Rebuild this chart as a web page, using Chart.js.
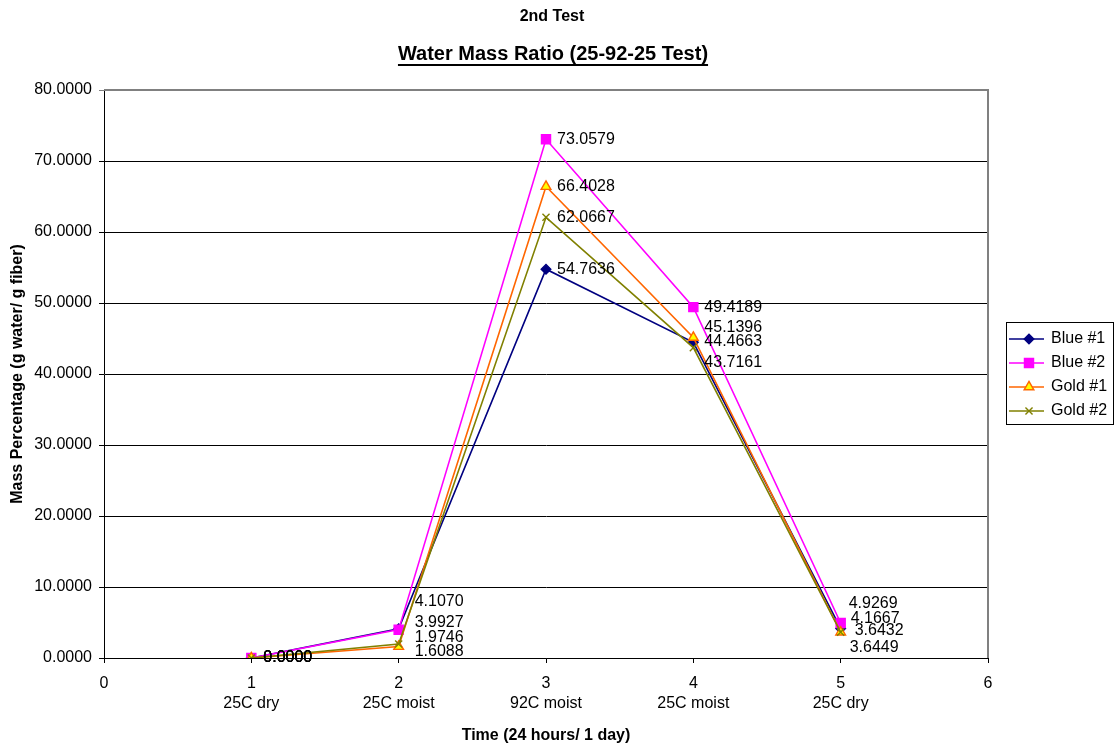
<!DOCTYPE html>
<html>
<head>
<meta charset="utf-8">
<title>Water Mass Ratio (25-92-25 Test)</title>
<script src="https://cdn.jsdelivr.net/npm/chart.js@4/dist/chart.umd.min.js"></script>
<style>
  html, body { margin: 0; padding: 0; background: #fff; }
  #wrap { position: relative; width: 1116px; height: 747px; }
</style>
</head>
<body>
<div id="wrap"><canvas id="chart" width="1116" height="747"></canvas></div>
<script>
// Time points (days) and the condition at each one
const timePoints = [1, 2, 3, 4, 5];
const conditions = ['25C dry', '25C moist', '92C moist', '25C moist', '25C dry'];

// Mass percentage (g water / g fiber) per sample
const blue1 = [0.0000, 4.1070, 54.7636, 44.4663, 4.1667];
const blue2 = [0.0000, 3.9927, 73.0579, 49.4189, 4.9269];
const gold1 = [0.0000, 1.6088, 66.4028, 45.1396, 3.6432];
const gold2 = [0.0000, 1.9746, 62.0667, 43.7161, 3.6449];

const seriesNames = ['Blue #1', 'Blue #2', 'Gold #1', 'Gold #2'];

// Axis ranges
const xMin = 0, xMax = 6, xStep = 1;
const yMin = 0, yMax = 80, yStep = 10;

const FONT = '"Liberation Sans", Arial, sans-serif';

// Label nudges (px) so the value labels don't sit on top of each other
const labelNudge = [
  [[12, 0], [16, -27], [11, 0], [11, -1], [10, -10]],
  [[12, 0], [16, -7],  [11, 0], [11, 0],  [8, -19]],
  [[12, 0], [16, 5],   [11, 0], [11, -10], [14, -2]],
  [[12, 0], [16, -6],  [11, 0], [11, 15], [9, 15]]
];

function pts(values) {
  return values.map((v, i) => ({ x: timePoints[i], y: v }));
}

const styles = [
  { color: '#000080', fill: '#000080', shape: 'rectRot', radius: 4.8 },
  { color: '#FF00FF', fill: '#FF00FF', shape: 'rect', radius: 6.4 },
  { color: '#FF6600', fill: '#FFFF00', shape: 'triangle', radius: 5.6 },
  { color: '#808000', fill: '#808000', shape: 'crossRot', radius: 5 }
];
const seriesValues = [blue1, blue2, gold1, gold2];

// later series are painted over earlier ones
const datasets = seriesValues.map((vals, k) => ({
  label: seriesNames[k],
  data: pts(vals),
  order: seriesValues.length - k,
  borderColor: styles[k].color,
  backgroundColor: styles[k].fill,
  borderWidth: 1.6,
  pointStyle: styles[k].shape,
  pointRadius: styles[k].radius,
  pointHoverRadius: styles[k].radius,
  pointBorderColor: styles[k].color,
  pointBackgroundColor: styles[k].fill,
  pointBorderWidth: 1.4,
  tension: 0,
  fill: false
}));

// Small marker painter for the legend
function drawMarker(ctx, shape, x, y, r, stroke, fill) {
  ctx.save();
  ctx.strokeStyle = stroke;
  ctx.fillStyle = fill;
  ctx.lineWidth = 1.4;
  ctx.beginPath();
  if (shape === 'rectRot') {
    ctx.moveTo(x, y - r); ctx.lineTo(x + r, y); ctx.lineTo(x, y + r); ctx.lineTo(x - r, y); ctx.closePath();
    ctx.fill(); ctx.stroke();
  } else if (shape === 'rect') {
    const s = r * Math.SQRT1_2;
    ctx.rect(x - s, y - s, 2 * s, 2 * s);
    ctx.fill(); ctx.stroke();
  } else if (shape === 'triangle') {
    ctx.moveTo(x, y - r);
    ctx.lineTo(x + r * 0.866, y + r * 0.5);
    ctx.lineTo(x - r * 0.866, y + r * 0.5);
    ctx.closePath();
    ctx.fill(); ctx.stroke();
  } else if (shape === 'crossRot') {
    const s = r * Math.SQRT1_2;
    ctx.moveTo(x - s, y - s); ctx.lineTo(x + s, y + s);
    ctx.moveTo(x + s, y - s); ctx.lineTo(x - s, y + s);
    ctx.stroke();
  }
  ctx.restore();
}

const decorations = {
  id: 'decorations',
  afterDatasetsDraw(chart) {
    const ctx = chart.ctx;
    // value labels
    ctx.save();
    ctx.font = '16px ' + FONT;
    ctx.fillStyle = '#000';
    ctx.textAlign = 'left';
    ctx.textBaseline = 'middle';
    chart.data.datasets.forEach((ds, k) => {
      const meta = chart.getDatasetMeta(k);
      meta.data.forEach((el, i) => {
        const [dx, dy] = labelNudge[k][i];
        ctx.fillText(ds.data[i].y.toFixed(4), el.x + dx, el.y + dy);
      });
    });
    ctx.restore();
  },
  afterDraw(chart) {
    const ctx = chart.ctx;
    const area = chart.chartArea;
    ctx.save();

    // plot frame: top and right edges
    ctx.strokeStyle = '#808080';
    ctx.lineWidth = 2;
    ctx.beginPath();
    ctx.moveTo(area.left, area.top);
    ctx.lineTo(area.right, area.top);
    ctx.lineTo(area.right, area.bottom);
    ctx.stroke();

    ctx.fillStyle = '#000';
    ctx.textAlign = 'center';
    ctx.textBaseline = 'middle';

    // titles
    ctx.font = 'bold 16px ' + FONT;
    ctx.fillText('2nd Test', 552, 17);
    ctx.font = 'bold 20px ' + FONT;
    const mainTitle = 'Water Mass Ratio (25-92-25 Test)';
    ctx.fillText(mainTitle, 553, 54);
    const w = ctx.measureText(mainTitle).width;
    ctx.fillRect(553 - w / 2, 64, w, 2);

    // axis titles
    ctx.font = 'bold 16px ' + FONT;
    ctx.fillText('Time (24 hours/ 1 day)', 546, 736);
    ctx.save();
    ctx.translate(18, 374);
    ctx.rotate(-Math.PI / 2);
    ctx.fillText('Mass Percentage (g water/ g fiber)', 0, 0);
    ctx.restore();

    // legend
    const lx = 1006, ly = 322, lw = 107, lh = 102;
    ctx.fillStyle = '#fff';
    ctx.fillRect(lx, ly, lw, lh);
    ctx.strokeStyle = '#000';
    ctx.lineWidth = 1;
    ctx.strokeRect(lx + 0.5, ly + 0.5, lw, lh);
    ctx.font = '16px ' + FONT;
    ctx.textAlign = 'left';
    seriesNames.forEach((name, k) => {
      const y = ly + 17 + k * 24;
      const st = styles[k];
      ctx.strokeStyle = st.color;
      ctx.lineWidth = 1.6;
      ctx.beginPath();
      ctx.moveTo(lx + 3, y);
      ctx.lineTo(lx + 38, y);
      ctx.stroke();
      drawMarker(ctx, st.shape, lx + 23, y, st.radius, st.color, st.fill);
      ctx.fillStyle = '#000';
      ctx.fillText(name, lx + 45, y);
    });
    ctx.restore();
  }
};

new Chart(document.getElementById('chart'), {
  type: 'line',
  data: { datasets },
  options: {
    responsive: false,
    animation: false,
    events: [],
    layout: { padding: { top: 90, right: 128, left: 0, bottom: 0 } },
    plugins: {
      legend: { display: false },
      title: { display: false },
      tooltip: { enabled: false }
    },
    scales: {
      x: {
        type: 'linear',
        min: xMin,
        max: xMax,
        afterFit(scale) { scale.height = 89; },
        ticks: {
          stepSize: xStep,
          color: '#000',
          font: { family: FONT, size: 16, lineHeight: 1.28 },
          padding: 10,
          maxRotation: 0,
          autoSkip: false,
          callback(value) {
            const i = timePoints.indexOf(value);
            return i >= 0 ? [String(value), conditions[i]] : String(value);
          }
        },
        grid: { drawOnChartArea: false, drawTicks: true, tickLength: 5, color: '#000', lineWidth: 1 },
        border: { color: '#000', width: 1 }
      },
      y: {
        min: yMin,
        max: yMax,
        afterFit(scale) { scale.width = 104; },
        ticks: {
          stepSize: yStep,
          color: '#000',
          font: { family: FONT, size: 16 },
          padding: 7,
          callback(value) { return value.toFixed(4); }
        },
        grid: {
          color(ctx) { return ctx.tick && ctx.tick.value === yMax ? '#808080' : '#000'; },
          lineWidth: 1,
          tickLength: 5,
          drawTicks: true
        },
        border: { color: '#000', width: 1 }
      }
    }
  },
  plugins: [decorations]
});
</script>
</body>
</html>
